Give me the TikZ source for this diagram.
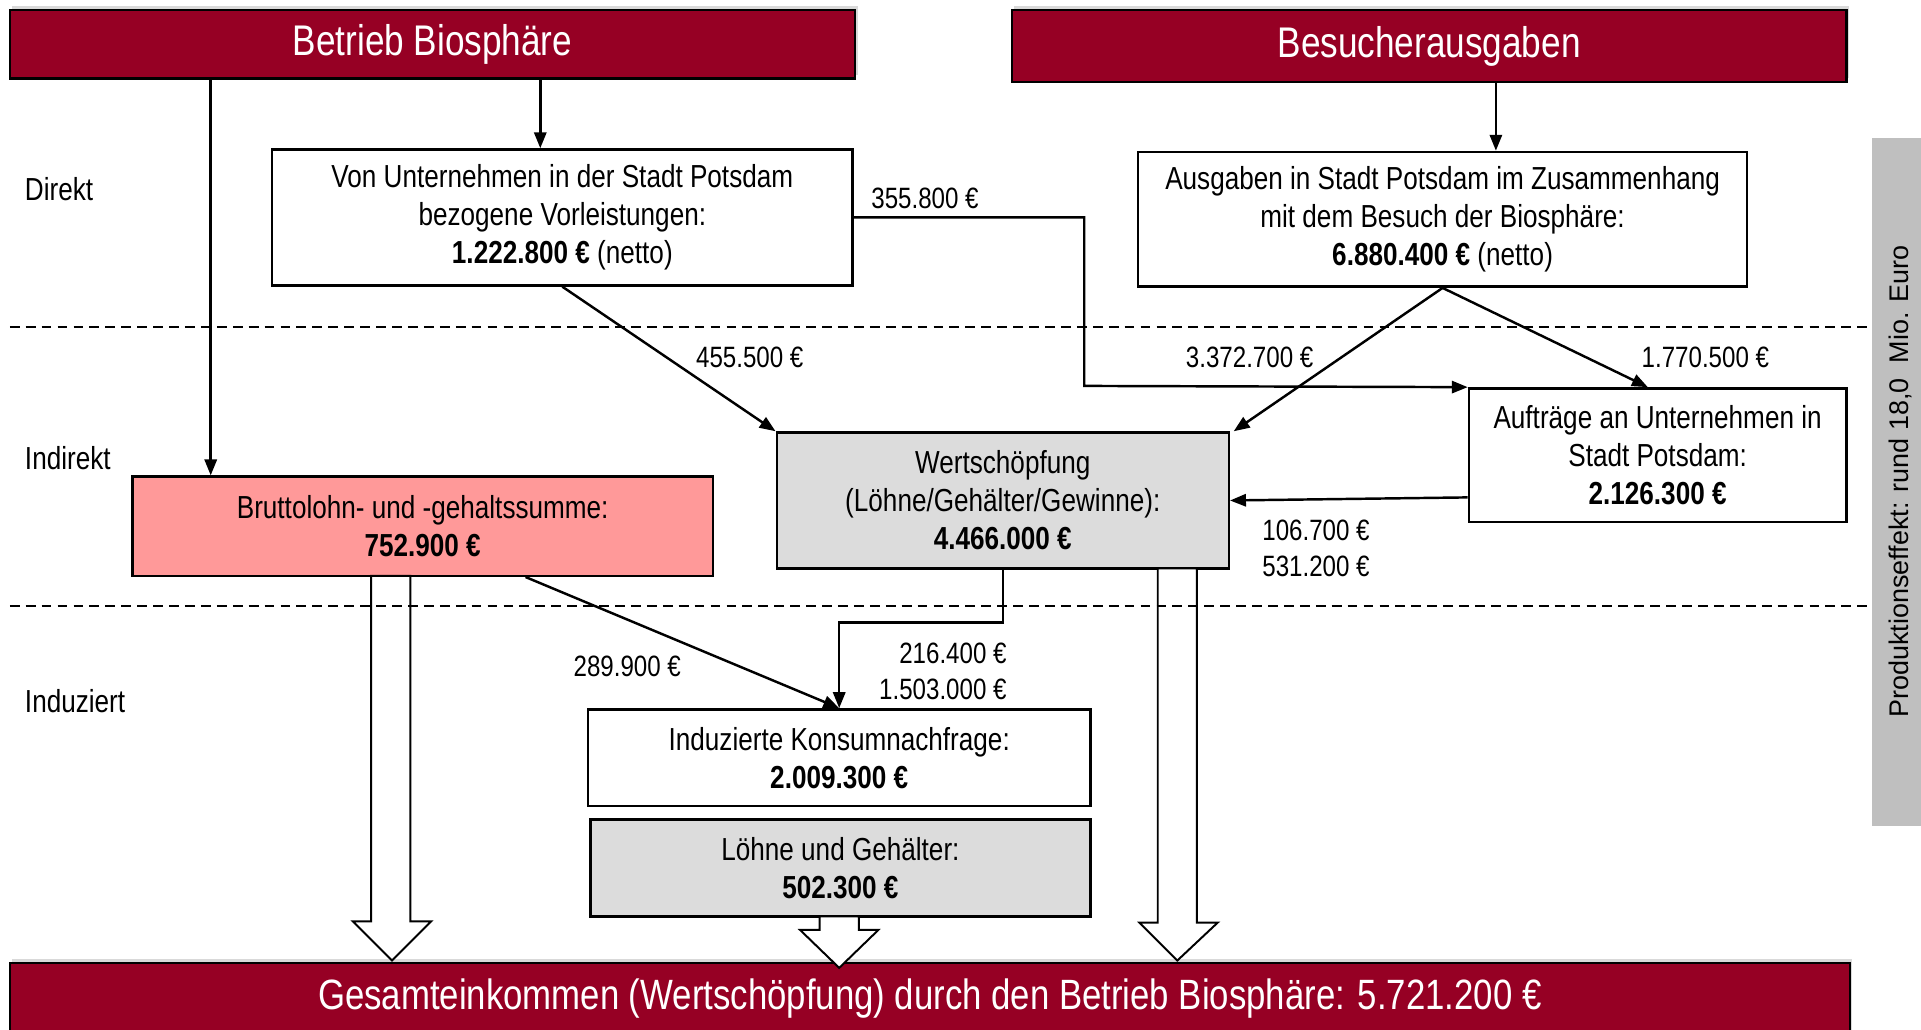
\documentclass[tikz,border=0pt]{standalone}
\usepackage{fontspec}
\setmainfont{Liberation Sans}[FakeStretch=0.82]
\newfontfamily\seitenfont{Liberation Sans}
\usetikzlibrary{arrows.meta,calc,shadows}

\definecolor{dunkelrot}{RGB}{150,0,36}
\definecolor{rosa}{RGB}{255,153,153}
\definecolor{hellgrau}{RGB}{220,220,220}
\definecolor{seitengrau}{RGB}{191,191,191}

\tikzset{
  balken/.style={fill=dunkelrot, draw=black, line width=1pt, text=white, inner sep=0pt,
    font=\fontsize{17.5}{20}\selectfont,
    drop shadow={opacity=0.3, shadow xshift=1pt, shadow yshift=1.5pt}},
  kasten/.style={draw=black, line width=1pt, align=center, inner sep=0pt,
    font=\fontsize{13}{15.5}\selectfont},
  pfeil/.style={line width=1pt, -{Triangle[length=6.5pt,width=5pt]}},
  betrag/.style={inner sep=0pt, font=\fontsize{12}{14.5}\selectfont},
  ebene/.style={anchor=west, inner sep=0pt, font=\fontsize{13}{15.5}\selectfont},
  hohl/.style={draw=black, fill=white, line width=0.8pt},
  trenn/.style={line width=0.8pt, dash pattern=on 4pt off 2.5pt}
}

\begin{document}
\begin{tikzpicture}[x=0.5pt, y=-0.5pt]

    \clip (0,0) rectangle (1568,840);

    % Ebenen
    \node[ebene] (direkt) at (20,154) {Direkt};
    \node[ebene] (indirekt) at (20,374) {Indirekt};
    \node[ebene] (induziert) at (20,572) {Induziert};

    % Kopf
    \node[balken, minimum width=345pt, minimum height=28pt] (betrieb) at (353,36) {Betrieb Biosphäre};
    \node[balken, minimum width=340.5pt, minimum height=29.5pt] (besuch) at (1166.5,37.5) {Besucherausgaben};

    % Kaesten
    \node[kasten, minimum width=237pt, minimum height=55.5pt] (vorl) at (459,177.5)
        {Von Unternehmen in der Stadt Potsdam\\bezogene Vorleistungen:\\\textbf{1.222.800 €} (netto)};
    \node[kasten, minimum width=248.5pt, minimum height=55pt] (ausg) at (1177.5,179)
        {Ausgaben in Stadt Potsdam im Zusammenhang\\mit dem Besuch der Biosphäre:\\\textbf{6.880.400 €} (netto)};
    \node[kasten, minimum width=154pt, minimum height=54.5pt] (auftr) at (1353,371.5)
        {Aufträge an Unternehmen in\\Stadt Potsdam:\\\textbf{2.126.300 €}};
    \node[kasten, fill=hellgrau, minimum width=184.5pt, minimum height=55.5pt] (wert) at (818.5,408.5)
        {Wertschöpfung\\(Löhne/Gehälter/Gewinne):\\\textbf{4.466.000 €}};
    \node[kasten, fill=rosa, minimum width=237pt, minimum height=40.5pt] (brutto) at (345,429.5)
        {Bruttolohn- und -gehaltssumme:\\\textbf{752.900 €}};
    \node[kasten, minimum width=205pt, minimum height=39.5pt] (konsum) at (685,618.5)
        {Induzierte Konsumnachfrage:\\\textbf{2.009.300 €}};
    \node[kasten, fill=hellgrau, minimum width=204pt, minimum height=39.5pt] (loehne) at (686,708.5)
        {Löhne und Gehälter:\\\textbf{502.300 €}};

    % Fuss
    \node[balken, font=\fontsize{17.3}{20}\selectfont, minimum width=751pt, minimum height=29pt] (gesamt) at (759,815)
        {Gesamteinkommen (Wertschöpfung) durch den Betrieb Biosphäre: 5.721.200 €};

    % Pfeile
    \coordinate (l1) at (172,0);
    \coordinate (l2) at (441,0);
    \coordinate (l3) at (1221,0);
    \coordinate (knick) at (885,315);
    \coordinate (wk) at (818.5,508);
    \draw[pfeil] (betrieb.south -| l1) -- (brutto.north -| l1);
    \draw[pfeil] (betrieb.south -| l2) -- (vorl.north -| l2);
    \draw[pfeil] (besuch.south -| l3) -- (ausg.north -| l3);
    \draw[pfeil] (vorl.south) -- (wert.north west);
    \draw[pfeil] (vorl.east) -| (knick) -- (auftr.north west);
    \draw[pfeil] (ausg.south) -- ($(wert.north east)+(3,0)$);
    \draw[pfeil] (ausg.south) -- ($(auftr.north)+(-8,0)$);
    \draw[pfeil] ($(auftr.south west)+(0,-21)$) -- (wert.east);
    \draw[pfeil] ($(brutto.south)+(84,0)$) -- (konsum.north);
    \draw[pfeil] (wert.south) -- (wk) -| (konsum.north);

    % Betraege
    \node[betrag] (b1) at (755,162) {355.800 €};
    \node[betrag] (b2) at (612,292) {455.500 €};
    \node[betrag] (b3) at (1020,292) {3.372.700 €};
    \node[betrag] (b4) at (1392,292) {1.770.500 €};
    \node[betrag, align=left, anchor=west] (b5) at (1030,447.5) {106.700 €\\531.200 €};
    \node[betrag] (b6) at (512,544) {289.900 €};
    \node[betrag, align=right, anchor=east] (b7) at (822,548) {216.400 €\\1.503.000 €};

    % Hohlpfeile
    \draw[hohl] (303,470) -- (303,752) -- (288,752) -- (320,784) -- (352,752) -- (335,752) -- (335,470) -- cycle;
    \draw[hohl] (945,464) -- (945,753) -- (930,753) -- (961,784) -- (994,753) -- (977,753) -- (977,464) -- cycle;
    \draw[hohl] (669,748) -- (669,759) -- (653,759) -- (685,790) -- (717,759) -- (701,759) -- (701,748) -- cycle;

    % Trennlinien ueber den Hohlpfeilen
    \draw[trenn] (8,267) -- (1525,267);
    \draw[trenn] (8,495) -- (1525,495);

    % Produktionseffekt
    \fill[seitengrau] (1528,113) rectangle (1568,674);
    \node[rotate=90, inner sep=0pt, font=\seitenfont\fontsize{11}{13}\selectfont] (effekt) at (1551,393)
        {Produktionseffekt: rund 18,0\ \ Mio. Euro};

\end{tikzpicture}
\end{document}
